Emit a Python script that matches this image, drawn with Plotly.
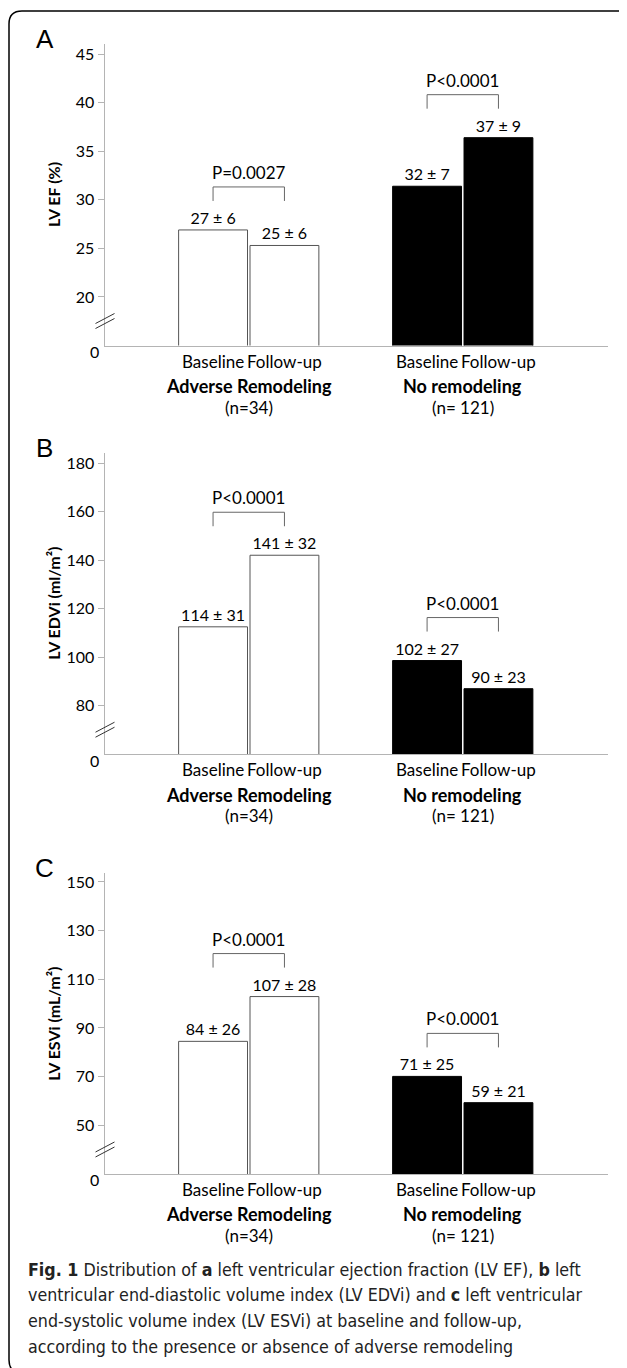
import plotly.graph_objects as go

# The page body has an 8px margin, so the figure is sized to fill the rest of the window
PAGE_MARGIN = 8
WIN_W, WIN_H = 627, 1368
W, H = WIN_W - PAGE_MARGIN, WIN_H - PAGE_MARGIN

# ---------------- data ----------------
groups = ["Adverse Remodeling", "No remodeling"]
group_n = ["(n=34)", "(n= 121)"]
timepoints = ["Baseline", "Follow-up"]

ef_baseline = [26.9, 31.4]
ef_followup = [25.3, 36.4]
ef_text_baseline = ["27 ± 6", "32 ± 7"]
ef_text_followup = ["25 ± 6", "37 ± 9"]
ef_p = ["P=0.0027", "P<0.0001"]
ef_ticks = [20, 25, 30, 35, 40, 45]

edvi_baseline = [112.5, 98.6]
edvi_followup = [142.0, 87.0]
edvi_text_baseline = ["114 ± 31", "102 ± 27"]
edvi_text_followup = ["141 ± 32", "90 ± 23"]
edvi_p = ["P<0.0001", "P<0.0001"]
edvi_ticks = [80, 100, 120, 140, 160, 180]

esvi_baseline = [84.5, 70.1]
esvi_followup = [102.9, 59.3]
esvi_text_baseline = ["84 ± 26", "71 ± 25"]
esvi_text_followup = ["107 ± 28", "59 ± 21"]
esvi_p = ["P<0.0001", "P<0.0001"]
esvi_ticks = [50, 70, 90, 110, 130, 150]

caption_lines = [
    "<b>Fig. 1</b> Distribution of <b>a</b> left ventricular ejection fraction (LV EF), <b>b</b> left",
    "ventricular end-diastolic volume index (LV EDVi) and <b>c</b> left ventricular",
    "end-systolic volume index (LV ESVi) at baseline and follow-up,",
    "according to the presence or absence of adverse remodeling",
]

# ---------------- style ----------------
FONT = "Lato"
CAP_FONT = "DejaVu Sans Condensed, Lato"
AXIS_GRAY = "#b4b4b4"
BRACKET = "#666666"
fill_colors = ["white", "black"]
edge_colors = ["#555555", "black"]
BARGAP, GROUPGAP = 0.333, 0.035
XRANGE = [-0.674, 1.68]

panels = [
    dict(letter="A", title="<b>LV EF (%)</b>", base=ef_baseline, fol=ef_followup,
         tb=ef_text_baseline, tf=ef_text_followup, p=ef_p, ticks=ef_ticks,
         yrange=[15, 46], top=42.5, bottom=344),
    dict(letter="B", title="<b>LV EDVi (ml/m²)</b>", base=edvi_baseline, fol=edvi_followup,
         tb=edvi_text_baseline, tf=edvi_text_followup, p=edvi_p, ticks=edvi_ticks,
         yrange=[60, 184], top=452, bottom=753.3),
    dict(letter="C", title="<b>LV ESVi (mL/m²)</b>", base=esvi_baseline, fol=esvi_followup,
         tb=esvi_text_baseline, tf=esvi_text_followup, p=esvi_p, ticks=esvi_ticks,
         yrange=[30, 153.5], top=872.7, bottom=1173.7),
]

X0, X1 = 104.5, 608.3


def fx(px):
    return (px - PAGE_MARGIN) / W


def fy(py):
    return 1 - (py - PAGE_MARGIN) / H


fig = go.Figure()
shapes, annotations = [], []
half = (1 - BARGAP) / 4

for i, pn in enumerate(panels, start=1):
    sx = "" if i == 1 else str(i)
    xa, ya = "x" + sx, "y" + sx
    for tp, vals, txt in ((timepoints[0], pn["base"], pn["tb"]), (timepoints[1], pn["fol"], pn["tf"])):
        fig.add_trace(go.Bar(
            x=groups, y=vals, name=tp, text=txt, textposition="outside",
            textfont=dict(family=FONT, size=16, color="black"),
            constraintext="none", cliponaxis=False,
            marker=dict(color=fill_colors, line=dict(color=edge_colors, width=1)),
            xaxis=xa, yaxis=ya, showlegend=False, hoverinfo="skip",
        ))
    fig.layout["xaxis" + sx] = dict(
        domain=[fx(X0), fx(X1)], range=XRANGE, anchor=ya, showticklabels=False,
        showline=True, linecolor=AXIS_GRAY, linewidth=1, ticks="", showgrid=False,
        zeroline=False, fixedrange=True,
    )
    fig.layout["yaxis" + sx] = dict(
        domain=[fy(pn["bottom"]), fy(pn["top"])], range=pn["yrange"], anchor=xa,
        tickvals=pn["ticks"], ticktext=[str(t) for t in pn["ticks"]],
        ticks="outside", ticklen=6, tickcolor=AXIS_GRAY, tickwidth=1,
        tickfont=dict(family=FONT, size=16, color="black"),
        showline=True, linecolor=AXIS_GRAY, linewidth=1, showgrid=False,
        zeroline=False, fixedrange=True,
    )
    # zero label at the broken-axis origin
    annotations.append(dict(xref=xa + " domain", yref=ya + " domain", x=0, y=0,
                            xanchor="right", yanchor="middle", xshift=-4, yshift=-6,
                            text="0", showarrow=False,
                            font=dict(family=FONT, size=16, color="black")))
    # axis break marks
    for dy in (0, 5):
        shapes.append(dict(type="line", xref=xa + " domain", yref=ya + " domain",
                           xsizemode="pixel", ysizemode="pixel", xanchor=0, yanchor=0,
                           x0=-9, x1=10, y0=17 + dy, y1=27 + dy,
                           line=dict(color="#333333", width=1)))
    # y-axis title
    annotations.append(dict(xref="paper", yref="paper", x=fx(54),
                            y=fy((pn["top"] + pn["bottom"]) / 2),
                            text=pn["title"], textangle=-90, showarrow=False,
                            xanchor="center", yanchor="middle",
                            font=dict(family=FONT, size=16, color="black")))
    # panel letter
    annotations.append(dict(xref="paper", yref="paper", x=fx(44.5), y=fy(pn["top"] - 5),
                            text=pn["letter"], showarrow=False, xanchor="center",
                            yanchor="middle",
                            font=dict(family="Liberation Sans", size=26, color="black")))
    for gi, g in enumerate(groups):
        # category labels
        for k, tp in enumerate(timepoints):
            annotations.append(dict(xref=xa, yref=ya + " domain",
                                    x=gi + (2 * k - 1) * half, y=0, yshift=-15.5,
                                    text=tp, showarrow=False, yanchor="middle",
                                    font=dict(family=FONT, size=17, color="black")))
        annotations.append(dict(xref=xa, yref=ya + " domain", x=gi, y=0, yshift=-40.5,
                                text="<b>" + g + "</b>", showarrow=False, yanchor="middle",
                                font=dict(family=FONT, size=18, color="black")))
        annotations.append(dict(xref=xa, yref=ya + " domain", x=gi, y=0, yshift=-61.5,
                                text=group_n[gi], showarrow=False, yanchor="middle",
                                font=dict(family=FONT, size=17, color="black")))
        # significance bracket
        top_val = max(pn["base"][gi], pn["fol"][gi])
        xl, xr = gi - half, gi + half
        common = dict(type="line", xref=xa, yref=ya, ysizemode="pixel", yanchor=top_val,
                      line=dict(color=BRACKET, width=1))
        shapes.append(dict(common, x0=xl, x1=xl, y0=29, y1=43))
        shapes.append(dict(common, x0=xr, x1=xr, y0=29, y1=43))
        shapes.append(dict(common, x0=xl, x1=xr, y0=43, y1=43))
        annotations.append(dict(xref=xa, yref=ya, x=gi, y=top_val, yshift=45,
                                text=pn["p"][gi], showarrow=False, yanchor="bottom",
                                font=dict(family=FONT, size=17, color="black")))

# caption
cap_y = [1270, 1295, 1320.5, 1346.5]
for line, py in zip(caption_lines, cap_y):
    annotations.append(dict(xref="paper", yref="paper", x=fx(26), y=fy(py),
                            xanchor="left", yanchor="middle", text=line, showarrow=False,
                            font=dict(family=CAP_FONT, size=17.7, color="#222222")))

# rounded frame (page pixel coordinates)
L, T, R, B, r = 9, 9, 632, 1373, 13
path = (f"M {fx(L)},{fy(T + r)} Q {fx(L)},{fy(T)} {fx(L + r)},{fy(T)} "
        f"L {fx(R - r)},{fy(T)} Q {fx(R)},{fy(T)} {fx(R)},{fy(T + r)} "
        f"L {fx(R)},{fy(B - r)} Q {fx(R)},{fy(B)} {fx(R - r)},{fy(B)} "
        f"L {fx(L + r)},{fy(B)} Q {fx(L)},{fy(B)} {fx(L)},{fy(B - r)} Z")
shapes.append(dict(type="path", xref="paper", yref="paper", path=path,
                   line=dict(color="black", width=1.5), layer="above"))

fig.update_layout(
    width=W, height=H, autosize=False,
    margin=dict(l=0, r=0, t=0, b=0),
    paper_bgcolor="white", plot_bgcolor="white",
    barmode="group", bargap=BARGAP, bargroupgap=GROUPGAP,
    shapes=shapes, annotations=annotations,
    font=dict(family=FONT, color="black"),
)

fig.write_html("out.html", config={"displayModeBar": False})
